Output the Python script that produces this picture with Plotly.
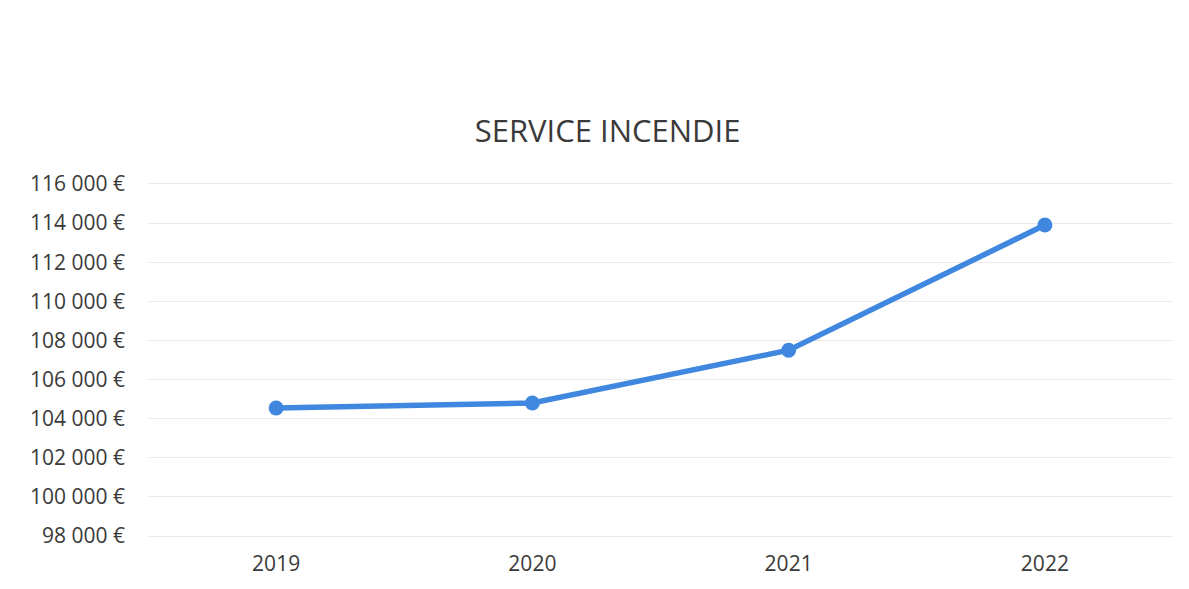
import plotly.graph_objects as go

# Annual spending, fire service
years = ["2019", "2020", "2021", "2022"]
amounts = [104550, 104800, 107500, 113900]

# Y axis ticks (euros, French thousands separator)
y_ticks = list(range(98000, 116001, 2000))
y_tick_labels = [f"{v:,}".replace(",", " ") + " €" for v in y_ticks]

fig = go.Figure()
fig.add_trace(go.Scatter(
    x=years,
    y=amounts,
    mode="lines+markers",
    line=dict(color="#4088df", width=5.5),
    marker=dict(color="#4088df", size=15),
    hoverinfo="x+y",
))

fig.update_layout(
    width=1189,
    height=589,
    paper_bgcolor="white",
    plot_bgcolor="white",
    showlegend=False,
    margin=dict(l=148, r=16, t=181, b=50),
    font=dict(family="Open Sans, Liberation Sans, sans-serif", color="#3a3a3a"),
    title=dict(
        text="SERVICE INCENDIE",
        x=0.511, xanchor="center",
        y=0.778, yanchor="middle",
        font=dict(size=31, color="#3a3a3a"),
    ),
    xaxis=dict(
        type="category",
        range=[-0.5, 3.5],
        showgrid=False,
        zeroline=False,
        showline=False,
        ticks="",
        tickfont=dict(size=21, color="#3a3a3a"),
        ticklabelstandoff=10,
    ),
    yaxis=dict(
        range=[97850, 116150],
        tickvals=y_ticks,
        ticktext=y_tick_labels,
        showgrid=True,
        gridcolor="#ebebeb",
        gridwidth=1,
        zeroline=False,
        showline=False,
        ticks="",
        tickfont=dict(size=21, color="#3a3a3a"),
        ticklabelstandoff=22,
    ),
)

fig.write_html("out.html")
